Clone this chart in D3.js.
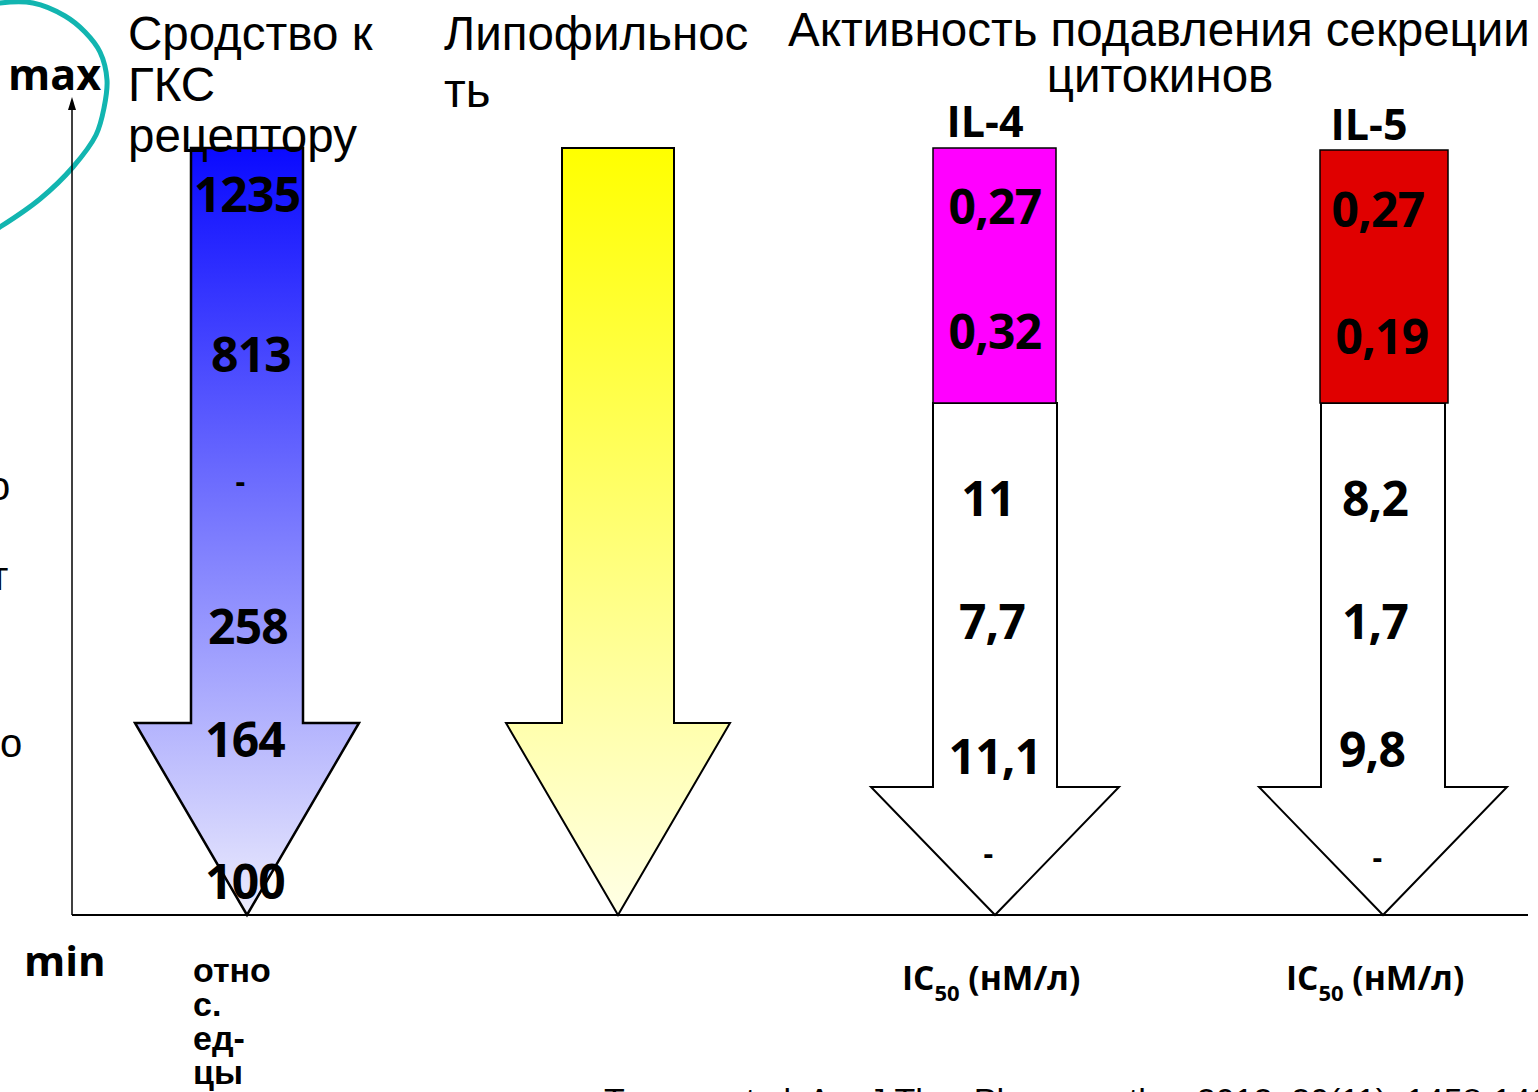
<!DOCTYPE html>
<html><head><meta charset="utf-8">
<script src="https://cdn.jsdelivr.net/npm/d3@7"></script>
<style>body{margin:0;background:#fff;overflow:hidden}</style>
</head><body>
<script>
// ---- data ----
const categories = ["affinity", "lipophilicity", "IL-4", "IL-5"];
const titleAffinity = ["Сродство к", "ГКС", "рецептору"];
const titleLipo = ["Липофильнос", "ть"];
const titleActivity = ["Активность подавления секреции", "цитокинов"];
const affinityValues = ["1235", "813", "-", "258", "164", "100"];
const il4Values = ["0,27", "0,32", "11", "7,7", "11,1", "-"];
const il5Values = ["0,27", "0,19", "8,2", "1,7", "9,8", "-"];
const unitAffinity = ["отно", "с.", "ед-", "цы"];
const unitIC = "IC";
const unitICsub = "50";
const unitICrest = " (нМ/л)";
const axisLabels = ["max", "min"];
const leftFragments = ["о", "т", "о"];

// ---- layout ----
const W = 1538, H = 1092;
const svg = d3.select("body").append("svg").attr("width", W).attr("height", H);
const x = d3.scaleOrdinal(categories, [247, 618, 995, 1383]);
const y = d3.scaleLinear([0, 1], [915, 100]);

const defs = svg.append("defs");
function grad(id, c1, c2) {
  const g = defs.append("linearGradient").attr("id", id).attr("x1", 0).attr("y1", 0).attr("x2", 0).attr("y2", 1);
  g.append("stop").attr("offset", "0%").attr("stop-color", c1);
  g.append("stop").attr("offset", "100%").attr("stop-color", c2);
}
grad("gBlue", "#0a0aff", "#ececfd");
grad("gYellow", "#ffff00", "#ffffe6");

const topF = y.invert(148), neckF = y.invert(723), neckF2 = y.invert(787), colTopF = y.invert(403);
function arrowPath(cx, hw, hhw, tTop, tNeck) {
  const p = d3.path();
  p.moveTo(cx - hw, y(tTop));
  p.lineTo(cx + hw, y(tTop));
  p.lineTo(cx + hw, y(tNeck));
  p.lineTo(cx + hhw, y(tNeck));
  p.lineTo(cx, y(0));
  p.lineTo(cx - hhw, y(tNeck));
  p.lineTo(cx - hw, y(tNeck));
  p.closePath();
  return p.toString();
}

// teal loop (partly off canvas)
const loopPts = [[-40, 12], [0, 3], [33, 3], [65, 16], [85, 32], [100, 52], [107, 80], [104, 108], [96, 135], [73, 167], [40, 199], [0, 227], [-40, 250]];
svg.append("path").attr("d", d3.line().curve(d3.curveCatmullRom)(loopPts))
  .attr("fill", "none").attr("stroke", "#12b5b0").attr("stroke-width", 5);

// axes
svg.append("line").attr("x1", 72).attr("x2", 72).attr("y1", y(0)).attr("y2", 108).attr("stroke", "#000").attr("stroke-width", 1.5);
svg.append("path").attr("d", `M68,110 L72,97 L76,110 Z`).attr("fill", "#000");
svg.append("line").attr("x1", 72).attr("x2", 1528).attr("y1", y(0)).attr("y2", y(0)).attr("stroke", "#000").attr("stroke-width", 2);

// arrows
svg.append("path").attr("d", arrowPath(x("affinity"), 56, 112, topF, neckF))
  .attr("fill", "url(#gBlue)").attr("stroke", "#000").attr("stroke-width", 2.5);
svg.append("path").attr("d", arrowPath(x("lipophilicity"), 56, 112, topF, neckF))
  .attr("fill", "url(#gYellow)").attr("stroke", "#000").attr("stroke-width", 2);
svg.append("path").attr("d", arrowPath(x("IL-4"), 62, 124, colTopF, neckF2))
  .attr("fill", "#fff").attr("stroke", "#000").attr("stroke-width", 2);
svg.append("path").attr("d", arrowPath(x("IL-5"), 62, 124, colTopF, neckF2))
  .attr("fill", "#fff").attr("stroke", "#000").attr("stroke-width", 2);
svg.append("rect").attr("x", x("IL-4") - 62).attr("y", y(topF)).attr("width", 123).attr("height", y(colTopF) - y(topF))
  .attr("fill", "#ff00ff").attr("stroke", "#000").attr("stroke-width", 1.5);
svg.append("rect").attr("x", x("IL-5") - 63).attr("y", 150).attr("width", 128).attr("height", y(colTopF) - 150)
  .attr("fill", "#e00000").attr("stroke", "#000").attr("stroke-width", 1.5);

// value labels
const boldF = "'Open Sans', sans-serif";
const affY = [193, 353, 480, 625, 738, 880];
const affDx = [0, 4, -7, 1, -2, -2];
const il4Y = [205, 330, 497, 620, 755, 852];
const il4Dx = [0, 0, -7, -3, 0, -7];
const il5Y = [208, 335, 497, 620, 748, 856];
const il5Dx = [-5, -1, -8, -8, -11, -6];
function labels(vals, cat, ys, dxs) {
  svg.append("g").selectAll("text").data(vals).join("text")
    .attr("x", (d, i) => x(cat) + dxs[i])
    .attr("y", (d, i) => ys[i])
    .attr("text-anchor", "middle").attr("dominant-baseline", "central")
    .attr("font-family", boldF).attr("font-weight", 700)
    .attr("font-size", d => d === "-" ? 30 : 48)
    .attr("letter-spacing", -0.8)
    .text(d => d);
}
labels(affinityValues, "affinity", affY, affDx);
labels(il4Values, "IL-4", il4Y, il4Dx);
labels(il5Values, "IL-5", il5Y, il5Dx);

// titles
const regF = "'Liberation Sans', Arial, sans-serif";
const tSize = 47.5;
svg.append("g").selectAll("text").data(titleAffinity).join("text")
  .attr("x", 128).attr("y", (d, i) => 50 + i * 51)
  .attr("font-family", regF).attr("font-size", tSize).text(d => d);
svg.append("g").selectAll("text").data(titleLipo).join("text")
  .attr("x", 444).attr("y", (d, i) => 50 + i * 57)
  .attr("font-family", regF).attr("font-size", tSize).text(d => d);
svg.append("g").selectAll("text").data(titleActivity).join("text")
  .attr("x", (d, i) => i === 0 ? 788 : 1160).attr("y", (d, i) => 46 + i * 46)
  .attr("text-anchor", (d, i) => i === 0 ? "start" : "middle")
  .attr("font-family", regF).attr("font-size", tSize).text(d => d);
svg.append("text").attr("x", 985).attr("y", 137).attr("text-anchor", "middle")
  .attr("font-family", boldF).attr("font-weight", 700).attr("font-size", 43).text("IL-4");
svg.append("text").attr("x", 1369).attr("y", 140).attr("text-anchor", "middle")
  .attr("font-family", boldF).attr("font-weight", 700).attr("font-size", 43).text("IL-5");

// max / min
svg.append("text").attr("x", 8).attr("y", 90).attr("font-family", boldF).attr("font-weight", 700)
  .attr("font-size", 43).text(axisLabels[0]);
svg.append("text").attr("x", 24).attr("y", 976).attr("font-family", boldF).attr("font-weight", 700)
  .attr("font-size", 42).text(axisLabels[1]);

// left fragments (cut off at the left edge, as in the reference)
const fragY = [500, 590, 757];
const fragX = [-12, -10, 0];
svg.append("g").selectAll("text").data(leftFragments).join("text")
  .attr("x", (d, i) => fragX[i]).attr("y", (d, i) => fragY[i])
  .attr("font-family", regF).attr("font-size", 40).attr("fill", "#000").text(d => d);

// units
svg.append("g").selectAll("text").data(unitAffinity).join("text")
  .attr("x", 193).attr("y", (d, i) => 982 + i * 34)
  .attr("font-family", regF).attr("font-weight", 700).attr("font-size", 34).text(d => d);
const icDx = {"IL-4": -93, "IL-5": -97};
["IL-4", "IL-5"].forEach(c => {
  const t = svg.append("text").attr("x", x(c) + icDx[c]).attr("y", 990)
    .attr("font-family", boldF).attr("font-weight", 700).attr("font-size", 33.5);
  t.append("tspan").text(unitIC);
  t.append("tspan").attr("font-size", 22).attr("dy", 11).text(unitICsub);
  t.append("tspan").attr("dy", -11).text(unitICrest);
});

// citation (cut off at bottom)
svg.append("text").attr("x", 604).attr("y", 1112).attr("font-family", regF).attr("font-size", 34)
  .text("Tamura et al. Am J Ther Pharmacother 2012; 20(11): 1458-1467");
</script>
</body></html>
